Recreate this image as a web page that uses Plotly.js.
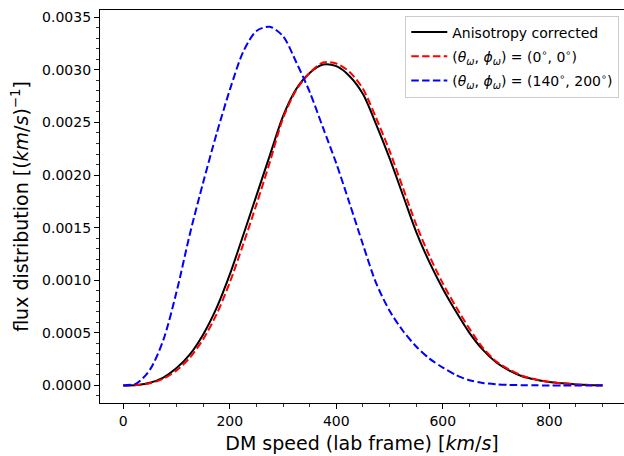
<!DOCTYPE html>
<html>
<head>
<meta charset="utf-8">
<script src="https://cdn.plot.ly/plotly-3.0.1.min.js"></script>
<style>
  html, body { margin: 0; padding: 0; background: #fff; }
  #chart { width: 624px; height: 456px; }
</style>
</head>
<body>
<div id="chart"></div>
<script>
// DM speed in the lab frame [km/s]
const speed = [0, 25, 50, 75, 100, 125, 150, 175, 200, 225, 250, 275, 300, 325, 350, 375, 400,
               425, 450, 475, 500, 525, 550, 575, 600, 625, 650, 675, 700, 725, 750, 775, 800,
               825, 850, 875, 900];

// Anisotropy corrected (black, solid)
const fluxCorrected = [0, 0.000005, 0.000025, 0.000075, 0.000165, 0.000295, 0.000485, 0.000735, 0.001055,
                       0.001425, 0.001805, 0.002185, 0.00256, 0.00282, 0.00297, 0.00305, 0.003035,
                       0.00294, 0.00277, 0.00248, 0.00216, 0.00181, 0.00146, 0.00117, 0.00092,
                       0.0007, 0.0005, 0.00034, 0.00022, 0.00014, 0.000085, 0.000055, 0.000033,
                       0.00002, 0.00001, 0.000004, 0.000001];

// (theta, phi) = (0, 0)  (red, dashed)
const fluxZero = [0, 0.000003, 0.00002, 0.000063, 0.000143, 0.000264, 0.00044, 0.000675, 0.00098,
                  0.00134, 0.00172, 0.00212, 0.00254, 0.00281, 0.00297, 0.00307, 0.00306,
                  0.00298, 0.00282, 0.00254, 0.00223, 0.00188, 0.00153, 0.00123, 0.00097,
                  0.000745, 0.00054, 0.00036, 0.00023, 0.00015, 0.00009, 0.000057, 0.000034,
                  0.00002, 0.00001, 0.000004, 0.000001];

// (theta, phi) = (140, 200)  (blue, dashed)
const fluxRot = [0, 0.00002, 0.00015, 0.00043, 0.00089, 0.00144, 0.00193, 0.00239, 0.00281,
                 0.00317, 0.00337, 0.00341, 0.00332, 0.00307, 0.00279, 0.00245, 0.00211,
                 0.00173, 0.00134, 0.00097, 0.00071, 0.00052, 0.00037, 0.000255, 0.00017,
                 0.000098, 0.00005, 0.000024, 0.000011, 0.000005, 0.000002, 0.000001, 0,
                 0, 0, 0, 0];

const seriesNames = [
  'Anisotropy corrected',
  '(<i>θ</i><sub><i>ω</i></sub>, <i>ϕ</i><sub><i>ω</i></sub>) = (0<sup>∘</sup>, 0<sup>∘</sup>)',
  '(<i>θ</i><sub><i>ω</i></sub>, <i>ϕ</i><sub><i>ω</i></sub>) = (140<sup>∘</sup>, 200<sup>∘</sup>)'
];

const yTickVals = [0, 0.0005, 0.001, 0.0015, 0.002, 0.0025, 0.003, 0.0035];
const xTickVals = [0, 200, 400, 600, 800];

const FONT = 'DejaVu Sans';

const traces = [
  { x: speed, y: fluxCorrected, name: seriesNames[0], legendgroup: 'a', type: 'scatter', mode: 'lines',
    line: { color: '#000000', width: 2, shape: 'spline', smoothing: 0.8 } },
  { x: speed, y: fluxZero, name: seriesNames[1], legendgroup: 'b', type: 'scatter', mode: 'lines',
    line: { color: '#ff0000', width: 2, dash: '7.5px,3.3px', shape: 'spline', smoothing: 0.8 } },
  { x: speed, y: fluxRot, name: seriesNames[2], legendgroup: 'c', type: 'scatter', mode: 'lines',
    line: { color: '#0000ff', width: 2, dash: '7.5px,3.3px', shape: 'spline', smoothing: 0.8 } }
];

const layout = {
  width: 624, height: 456,
  margin: { l: 100, r: 0, t: 10, b: 53, pad: 0 },
  paper_bgcolor: '#ffffff', plot_bgcolor: '#ffffff',
  font: { family: FONT, size: 14, color: '#000000' },
  showlegend: true,
  legend: {
    x: 0.991, y: 0.986, xanchor: 'right', yanchor: 'top',
    bgcolor: 'rgba(255,255,255,0.8)', bordercolor: '#cccccc', borderwidth: 1,
    font: { family: FONT, size: 14, color: '#000000' },
    traceorder: 'grouped', tracegroupgap: 3, itemwidth: 36
  },
  xaxis: {
    range: [-43.8, 940.3], showgrid: false, zeroline: false,
    showline: true, linecolor: '#000000', linewidth: 1.1, mirror: true,
    ticks: 'outside', ticklen: 5, tickwidth: 1.1, tickcolor: '#000000',
    tickvals: xTickVals, ticktext: xTickVals.map(String),
    tickfont: { family: FONT, size: 14, color: '#000000' },
    minor: { dtick: 50, tick0: 0, ticks: 'outside', ticklen: 3, tickwidth: 0.8, tickcolor: '#000000', showgrid: false },
    title: { text: 'DM speed (lab frame) [<i>km</i>/<i>s</i>]', font: { family: FONT, size: 19, color: '#000000' }, standoff: 8 },
    automargin: false
  },
  yaxis: {
    range: [-0.000167, 0.003569], showgrid: false, zeroline: false,
    showline: true, linecolor: '#000000', linewidth: 1.1, mirror: false,
    ticks: 'outside', ticklen: 5, tickwidth: 1.1, tickcolor: '#000000',
    tickvals: yTickVals, tickformat: '.4f',
    tickfont: { family: FONT, size: 14, color: '#000000' },
    minor: { dtick: 0.0001, tick0: 0, ticks: 'outside', ticklen: 3, tickwidth: 0.8, tickcolor: '#000000', showgrid: false },
    title: { text: 'flux distribution [(<i>km</i>/<i>s</i>)<sup>−1</sup>]', font: { family: FONT, size: 19, color: '#000000' }, standoff: 8 },
    automargin: false
  }
};

Plotly.newPlot('chart', traces, layout, { displayModeBar: false, staticPlot: true });
</script>
</body>
</html>
